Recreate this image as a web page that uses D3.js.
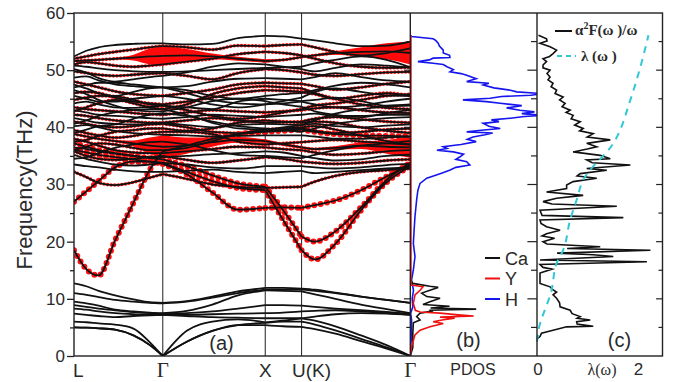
<!DOCTYPE html>
<html>
<head>
<meta charset="utf-8">
<script src="https://cdn.jsdelivr.net/npm/d3@7"></script>
<style>
  body { margin: 0; background: #fff; }
  svg text { font-family: "Liberation Sans", Arial, sans-serif; fill: #2a2a2a; }
  .serif { font-family: "Liberation Serif", "Times New Roman", serif !important; }
</style>
</head>
<body>
<div id="chart"></div>
<script>
// k-path grid (L-G-X-U(K)-G), high symmetry points and labels
var kPath = [0, 0.12, 0.24, 0.40, 0.58, 0.74, 0.866, 1.1, 1.35, 1.6, 1.866, 2.04, 2.22, 2.35, 2.55, 2.8, 3.05, 3.281];
var segments = [[0, 6], [6, 10], [10, 12], [12, 17]];
var kTicks = [0, 0.866, 1.866, 2.22, 3.281];
var kLabels = ["L", "Γ", "X", "U(K)", "Γ"];

// low (Ca/Y) branches, THz
var lowBands = [
  [12.7, 12.2, 11.4, 10.6, 9.9, 9.4, 9.3, 9.6, 10.4, 11.3, 11.9, 11.9, 11.8, 11.6, 11.1, 10.4, 9.8, 9.3],
  [11.0, 10.7, 10.3, 9.8, 9.5, 9.3, 9.2, 9.5, 10.2, 11.0, 11.6, 11.6, 11.6, 11.4, 11.0, 10.4, 9.8, 9.3],
  [9.5, 9.2, 8.8, 8.1, 7.8, 7.6, 7.5, 7.9, 9.0, 10.6, 11.5, 11.4, 11.3, 10.8, 10.0, 9.0, 8.2, 7.5],
  [8.9, 8.6, 8.3, 8.0, 7.7, 7.5, 7.4, 7.5, 7.8, 8.3, 8.9, 8.9, 8.8, 8.6, 8.3, 8.0, 7.7, 7.4],
  [8.3, 8.1, 7.8, 7.5, 7.3, 7.2, 7.2, 7.2, 7.3, 7.4, 7.5, 7.6, 7.8, 7.9, 8.0, 7.8, 7.5, 7.2],
  [7.4, 7.2, 7.0, 6.8, 7.0, 7.1, 7.2, 7.0, 6.8, 6.7, 6.6, 6.6, 6.6, 6.9, 7.3, 7.5, 7.4, 7.2],
  [6.0, 5.9, 5.7, 5.5, 4.8, 2.4, 0, 4.4, 6.0, 6.4, 5.9, 6.2, 6.6, 6.2, 5.2, 3.6, 1.9, 0],
  [5.0, 4.95, 4.85, 4.6, 3.6, 1.9, 0, 2.5, 4.4, 5.4, 5.8, 6.0, 6.0, 5.5, 4.5, 3.0, 1.5, 0],
  [5.0, 4.95, 4.85, 4.6, 3.6, 1.9, 0, 2.5, 4.4, 5.4, 5.4, 5.2, 5.1, 4.7, 3.9, 2.6, 1.3, 0]
];

// high (H) branches, THz
var highBands = [
  [52.4, 53.4, 54.0, 54.4, 54.6, 54.7, 54.7, 54.5, 54.6, 55.6, 56.0, 55.9, 55.5, 55.2, 54.7, 54.2, 54.3, 55.0],
  [52.0, 52.4, 52.8, 53.2, 53.6, 54.0, 54.2, 54.0, 53.6, 54.3, 54.2, 54.4, 54.5, 54.0, 53.2, 52.6, 53.0, 53.8],
  [51.6, 51.7, 51.8, 52.0, 52.2, 52.4, 52.5, 52.6, 52.4, 52.0, 51.6, 51.8, 52.3, 52.6, 53.0, 53.2, 53.3, 53.0],
  [50.8, 50.6, 50.3, 50.0, 49.8, 49.7, 49.7, 49.8, 50.0, 50.2, 50.4, 50.5, 50.6, 51.2, 51.8, 52.4, 51.8, 50.5],
  [49.8, 49.5, 49.2, 49.0, 49.2, 49.4, 49.5, 49.0, 48.4, 49.5, 50.2, 50.0, 49.6, 49.2, 49.0, 49.3, 49.6, 49.7],
  [48.7, 48.9, 48.2, 47.5, 47.2, 47.0, 47.0, 47.2, 48.0, 48.5, 48.6, 48.5, 48.4, 48.8, 49.5, 48.8, 48.2, 48.0],
  [48.0, 47.5, 47.0, 46.3, 45.8, 45.6, 45.5, 46.0, 46.6, 47.5, 47.8, 47.7, 47.6, 47.2, 46.6, 47.0, 47.6, 48.0],
  [47.0, 47.4, 47.8, 47.8, 47.5, 47.2, 47.0, 46.5, 45.5, 45.0, 45.5, 45.8, 46.0, 46.5, 47.3, 47.8, 47.5, 47.0],
  [46.0, 46.2, 46.0, 45.2, 44.5, 44.2, 44.0, 44.5, 45.2, 46.0, 46.5, 46.4, 46.2, 45.8, 45.0, 45.5, 46.0, 45.5],
  [45.5, 45.0, 44.5, 44.5, 45.0, 45.3, 45.5, 45.0, 44.0, 43.5, 44.0, 44.2, 44.5, 44.0, 43.5, 43.8, 44.5, 45.0],
  [44.2, 44.5, 44.0, 43.5, 43.4, 43.6, 43.8, 43.5, 43.2, 44.5, 45.0, 44.8, 44.6, 44.8, 45.2, 44.6, 43.8, 44.0],
  [43.5, 43.2, 43.0, 42.8, 42.5, 42.3, 42.2, 42.6, 43.0, 42.8, 42.6, 42.8, 43.0, 43.3, 43.5, 43.0, 42.6, 42.5],
  [43.0, 42.6, 42.2, 42.0, 41.8, 41.6, 41.5, 41.8, 42.2, 42.0, 41.8, 42.0, 42.2, 42.4, 42.0, 42.0, 42.2, 42.2],
  [42.2, 42.0, 41.6, 41.2, 41.0, 40.8, 40.8, 41.2, 41.6, 41.2, 40.8, 40.9, 41.0, 41.5, 41.8, 41.4, 41.0, 40.8],
  [41.6, 41.2, 40.8, 40.6, 40.5, 40.6, 40.8, 40.4, 40.0, 40.4, 40.6, 40.5, 40.4, 40.6, 40.2, 40.0, 40.3, 40.5],
  [41.0, 40.6, 40.2, 40.0, 40.2, 40.5, 40.6, 40.0, 39.2, 39.0, 39.4, 39.6, 39.8, 39.4, 39.0, 39.2, 39.6, 39.8],
  [40.2, 40.4, 40.0, 39.4, 39.0, 38.8, 38.7, 38.6, 38.4, 38.5, 38.6, 38.6, 38.6, 38.4, 38.0, 38.0, 38.2, 38.4],
  [39.5, 39.0, 38.6, 38.2, 38.5, 39.0, 39.2, 39.2, 38.8, 37.5, 37.0, 37.2, 37.4, 37.6, 37.8, 37.5, 37.2, 37.0],
  [38.8, 38.4, 38.0, 37.6, 37.2, 36.8, 36.6, 36.8, 37.4, 37.8, 37.6, 37.0, 36.5, 36.2, 36.4, 36.8, 36.6, 36.5],
  [38.0, 37.5, 36.8, 36.0, 35.6, 35.5, 35.5, 35.8, 36.2, 36.6, 36.5, 36.2, 36.0, 35.6, 35.2, 35.4, 35.8, 36.0],
  [36.5, 36.2, 35.8, 35.4, 35.0, 34.8, 34.8, 35.0, 35.3, 35.5, 35.8, 35.6, 35.0, 34.6, 34.2, 34.4, 35.0, 35.2],
  [35.8, 35.0, 34.5, 34.3, 34.5, 34.8, 35.0, 34.3, 33.8, 34.2, 34.8, 34.5, 34.0, 33.8, 33.6, 33.8, 34.2, 34.4],
  [35.2, 34.5, 34.0, 33.5, 33.3, 33.5, 33.8, 33.5, 33.0, 32.8, 33.2, 33.2, 33.2, 33.0, 32.8, 33.0, 33.4, 33.6],
  [33.5, 33.2, 33.0, 32.6, 32.3, 32.2, 32.2, 32.4, 32.6, 32.2, 32.0, 32.2, 32.4, 32.0, 32.2, 32.5, 32.8, 33.0],
  [32.2, 31.3, 30.3, 29.9, 30.4, 31.2, 31.8, 31.0, 30.0, 29.6, 29.4, 29.5, 29.6, 30.5, 31.5, 32.2, 32.5, 32.8],
  [27.0, 28.8, 30.6, 33.0, 34.0, 34.0, 33.6, 31.8, 28.6, 25.6, 25.9, 26.0, 25.9, 26.4, 27.2, 29.0, 31.4, 33.4],
  [37.2, 36.6, 36.0, 35.5, 35.0, 34.6, 34.4, 33.2, 31.6, 30.2, 29.6, 25.5, 20.9, 20.0, 21.8, 26.0, 30.8, 33.8],
  [36.0, 35.6, 35.2, 34.8, 34.4, 34.0, 33.8, 32.2, 30.6, 29.4, 29.0, 23.8, 18.5, 16.9, 19.6, 25.5, 30.4, 33.2],
  [18.5, 15.2, 14.1, 20.2, 26.8, 32.6, 35.8, 36.8, 38.0, 38.8, 39.2, 39.4, 39.6, 39.2, 38.8, 38.6, 38.5, 38.4],
  [46.5, 45.8, 44.8, 43.8, 43.0, 42.8, 42.8, 43.5, 44.6, 45.0, 44.6, 44.0, 43.6, 42.8, 42.2, 41.8, 42.5, 43.0],
  [44.8, 45.2, 45.5, 45.4, 44.8, 44.0, 43.8, 43.0, 42.0, 41.5, 42.0, 42.6, 43.2, 43.8, 44.2, 44.8, 45.5, 45.8],
  [39.0, 39.6, 40.2, 40.5, 41.5, 42.2, 42.5, 42.0, 41.0, 40.2, 39.8, 39.5, 39.2, 39.8, 40.6, 41.2, 41.6, 41.8],
  [37.5, 37.8, 38.5, 39.2, 39.5, 39.8, 39.8, 39.4, 39.8, 40.8, 41.2, 41.0, 40.8, 41.0, 40.8, 40.0, 39.4, 39.0],
  [34.5, 34.8, 35.5, 36.4, 37.0, 37.4, 37.5, 37.0, 36.0, 35.2, 35.0, 34.8, 34.6, 35.2, 36.0, 36.8, 37.2, 37.6],
  [51.0, 51.4, 51.2, 50.8, 50.6, 50.8, 51.0, 51.5, 52.0, 52.8, 53.2, 53.0, 52.6, 52.0, 51.2, 50.6, 50.4, 50.5],
  [47.5, 46.8, 46.0, 45.5, 46.2, 46.8, 47.0, 46.0, 44.8, 44.2, 44.0, 44.6, 45.2, 46.2, 46.8, 46.2, 45.6, 45.5],
  [42.8, 43.5, 44.2, 44.8, 44.2, 43.5, 43.2, 44.0, 45.8, 46.8, 47.2, 47.0, 46.8, 46.0, 45.0, 44.0, 43.4, 43.2],
  [40.6, 41.2, 42.0, 42.6, 43.0, 43.2, 43.2, 42.2, 40.8, 39.8, 39.6, 40.0, 40.4, 41.2, 42.4, 43.2, 43.6, 43.8],
  [50.2, 49.6, 48.6, 48.0, 48.4, 48.8, 49.0, 49.6, 50.6, 51.2, 51.0, 50.6, 50.2, 49.8, 50.4, 51.0, 50.8, 50.5],
  [36.0, 36.6, 37.2, 37.0, 36.4, 36.0, 36.0, 36.4, 37.6, 38.8, 39.6, 39.8, 40.0, 40.2, 39.6, 38.6, 37.6, 37.0]
];

// branches carrying e-ph coupling markers
var redBandIdx = [1, 2, 4, 6, 8, 11, 13, 15, 17, 18, 19, 21, 24, 30, 32, 34, 36, 39];
var bigBeadIdx = [25, 26, 27, 28];
// fat-band linewidth (THz) for the strongest coupled branches
var fatBandIdx = [2, 18];
var fatWeight = [
  [0, 0, 0, 0.1, 0.5, 1.4, 1.7, 1.1, 0.5, 0.35, 0.3, 0.15, 0.1, 0.15, 0.3, 0.8, 1.4, 2.0],
  [0, 0, 0, 0.1, 0.5, 1.4, 2.0, 1.4, 0.8, 0.5, 0.3, 0.2, 0.2, 0.2, 0.3, 0.6, 1.2, 1.8]
];

// PDOS (b): [frequency THz, states a.u.]
var pdosCa = [[0,0],[1.5,0.2],[4.0,0.2],[5.8,0.24],[6.3,0.77],[6.9,0.5],[7.5,0.77],[7.9,1.8],[8.0,1.5],[8.2,5.2],[8.4,1.6],[8.7,3.1],[9.0,1.0],[9.5,1.55],[10.1,2.35],[10.4,1.3],[11.0,0.9],[11.5,1.55],[12.0,2.2],[12.2,1.55],[12.7,0.2],[13.2,0]];
var pdosY = [[0,0],[1.6,0.1],[3.7,0.37],[4.5,0.77],[5.1,1.55],[5.7,2.6],[6.0,1.8],[6.3,2.5],[6.6,3.5],[6.8,2.35],[7.0,5.0],[7.2,3.8],[7.5,2.35],[7.7,0.77],[8.0,0.4],[9.2,0.24],[10.7,0.37],[11.5,0.77],[12.1,1.0],[12.4,0.1],[13,0.05],[56,0.05]];
var pdosH = [[0,0],[2,0.05],[4,0.1],[6.3,0.1],[7.5,0.03],[8.6,0.2],[10,0.15],[11.5,0.25],[13.3,0.1],[15,0.24],[17.4,0.37],[19.7,0.24],[22,0.3],[24.4,0.37],[27.3,0.5],[29,0.6],[30.2,0.77],[31.1,1.3],[31.9,2.35],[32.5,3.1],[33.0,3.6],[33.4,4.7],[34.0,4.45],[34.4,3.6],[34.8,3.9],[35.3,4.2],[35.7,3.4],[36.0,2.1],[36.3,2.9],[36.6,2.6],[37.0,4.0],[37.5,5.2],[37.9,4.5],[38.3,4.95],[38.7,5.9],[39.0,6.5],[39.2,4.45],[39.5,5.6],[39.8,7.1],[40.2,6.2],[40.7,5.75],[41.0,7.0],[41.3,6.4],[41.6,7.9],[41.9,9.0],[42.1,10.5],[42.4,8.8],[42.7,9.8],[43.0,8.65],[43.4,7.6],[43.8,8.8],[44.2,7.1],[44.5,6.0],[44.8,4.15],[45.1,6.3],[45.4,7.2],[45.6,9.5],[45.9,10.5],[46.2,8.4],[46.5,7.9],[46.9,6.6],[47.4,5.75],[47.7,6.2],[48.0,4.45],[48.5,5.2],[49.1,4.45],[49.4,4.0],[49.7,3.13],[50.1,3.4],[50.6,2.9],[51.0,2.6],[51.2,1.8],[51.5,0.6],[51.8,1.5],[52.1,1.8],[52.2,3.13],[52.6,3.1],[53.0,2.6],[53.5,2.6],[54.2,2.3],[54.7,2.2],[55.2,2.0],[55.5,1.8],[55.9,0.1],[56.1,0]];

// Eliashberg (c): [frequency THz, alpha^2F/omega] and [frequency THz, lambda]
var a2F = [[3.0,0],[3.4,0.06],[4.0,0.09],[4.5,0.32],[5.1,0.59],[5.2,1.12],[5.6,0.8],[6.0,0.79],[6.3,1.06],[6.6,0.8],[6.9,0.86],[7.4,0.7],[8.0,0.66],[8.6,0.46],[9.3,0.45],[10.1,0.39],[10.7,0.32],[11.2,0.39],[11.7,0.3],[12.1,0.26],[12.7,0.06],[14.5,0.06],[15.2,0.3],[15.5,0.12],[16.0,0.06],[16.5,2.19],[16.8,0.06],[17.4,1.52],[17.7,1.12],[18.0,0.4],[18.5,2.26],[18.8,0.6],[19.1,1.26],[19.6,0.2],[20.0,0.12],[20.6,0.35],[21.0,0.1],[21.4,0.19],[22.0,0.46],[22.6,0.19],[23.2,0.08],[23.8,0.06],[24.2,1.72],[24.6,0.1],[25.5,0.06],[26.2,1.59],[26.6,0.3],[27.0,0.12],[27.6,0.39],[28.1,0.92],[28.7,0.19],[29.3,0.59],[29.9,0.59],[30.5,0.72],[31.1,1.19],[31.5,0.8],[31.9,0.86],[32.5,1.39],[32.8,0.99],[33.4,1.86],[33.8,1.1],[34.3,0.99],[34.5,1.46],[35.1,1.26],[35.7,0.72],[36.2,1.0],[36.6,1.19],[37.2,0.99],[37.8,1.46],[38.3,1.0],[38.9,1.12],[39.4,0.85],[39.8,0.92],[40.4,0.75],[41.0,0.86],[41.5,0.68],[42.1,0.72],[42.6,0.58],[43.0,0.66],[43.6,0.5],[44.2,0.56],[44.8,0.45],[45.3,0.52],[45.9,0.36],[46.5,0.39],[47.1,0.28],[47.7,0.32],[48.3,0.22],[48.8,0.26],[49.4,0.2],[50.0,0.26],[50.4,0.12],[50.9,0.12],[51.5,0.19],[52.0,0.12],[52.4,0.25],[52.9,0.32],[53.5,0.39],[54.1,0.26],[54.7,0.06],[55.1,0.2],[55.5,0.19],[56.1,0.03]];
var lambdaW = [[2.5,0],[4.5,0.03],[11.5,0.29],[16.2,0.39],[18.5,0.52],[23.8,0.66],[27.3,0.79],[30.8,0.92],[37.2,1.52],[44.8,1.86],[50.6,2.06],[56.1,2.22]];

var pdosNames = ["Ca", "Y", "H"];
var pdosColors = ["#111111", "#ee1111", "#1515ee"];

//svg
var svgWidth = 681, svgHeight = 382;
var svg = d3.select("#chart").append("svg")
    .attr("width", svgWidth)
    .attr("height", svgHeight);

//panel edges
var plotTop = 13, plotBottom = 356;
var xa0 = 74, xa1 = 410.3, xb1 = 537, xc1 = 662.5;

var yF = d3.scaleLinear().domain([0, 60]).range([plotBottom, plotTop]);
var xK = d3.scaleLinear().domain([0, 3.281]).range([xa0, xa1]);
var xP = d3.scaleLinear().domain([0, 10]).range([xa1, xb1]);
var xL = d3.scaleLinear().domain([0, 2.5]).range([xb1, xc1]);

var defs = svg.append("defs");
defs.append("clipPath").attr("id", "clipA").append("rect")
    .attr("x", xa0).attr("y", plotTop).attr("width", xa1 - xa0).attr("height", plotBottom - plotTop);
defs.append("clipPath").attr("id", "clipB").append("rect")
    .attr("x", xa1).attr("y", plotTop).attr("width", xb1 - xa1).attr("height", plotBottom - plotTop);

// ---------- panel (a) ----------
var gA = svg.append("g").attr("clip-path", "url(#clipA)");

// high symmetry lines
gA.selectAll(".sym").data(kTicks.slice(1, 4)).enter().append("line")
    .attr("x1", d => xK(d)).attr("x2", d => xK(d))
    .attr("y1", plotTop).attr("y2", plotBottom)
    .attr("stroke", "#333").attr("stroke-width", 1.1);

var bandLine = d3.line()
    .x(d => xK(d[0])).y(d => yF(d[1]))
    .curve(d3.curveMonotoneX);
var fatArea = d3.area()
    .x(d => xK(d[0])).y0(d => yF(d[1] - d[2])).y1(d => yF(d[1] + d[2]))
    .curve(d3.curveMonotoneX);

function bandSegs(band, w) {
    return segments.map(s => d3.range(s[0], s[1] + 1).map(i => [kPath[i], band[i], w ? w[i] : 0]));
}

// fat bands
fatBandIdx.forEach(function(bi, j) {
    gA.selectAll(null).data(bandSegs(highBands[bi], fatWeight[j])).enter().append("path")
        .attr("d", fatArea)
        .attr("fill", "#ff0a0a");
});

// small red markers
redBandIdx.forEach(function(bi) {
    gA.selectAll(null).data(bandSegs(highBands[bi])).enter().append("path")
        .attr("d", bandLine)
        .attr("fill", "none")
        .attr("stroke", "#ff1010")
        .attr("stroke-width", 3.6)
        .attr("stroke-linecap", "round")
        .attr("stroke-dasharray", "0 3.6");
});
// big red markers
bigBeadIdx.forEach(function(bi) {
    gA.selectAll(null).data(bandSegs(highBands[bi])).enter().append("path")
        .attr("d", bandLine)
        .attr("fill", "none")
        .attr("stroke", "#ff1010")
        .attr("stroke-width", 6)
        .attr("stroke-linecap", "round")
        .attr("stroke-dasharray", "0 6.5");
});

// all branches in black
lowBands.concat(highBands).forEach(function(band) {
    gA.selectAll(null).data(bandSegs(band)).enter().append("path")
        .attr("d", bandLine)
        .attr("fill", "none")
        .attr("stroke", "#111")
        .attr("stroke-width", 1.8);
});

// ---------- panel (b) ----------
var gB = svg.append("g").attr("clip-path", "url(#clipB)");
var pdosLine = d3.line().x(d => xP(d[1])).y(d => yF(d[0]));
[pdosH, pdosCa, pdosY].forEach(function(data, i) {
    var c = [pdosColors[2], pdosColors[0], pdosColors[1]][i];
    gB.append("path")
        .attr("d", pdosLine(data))
        .attr("fill", "none")
        .attr("stroke", c)
        .attr("stroke-width", 1.6);
});

// ---------- panel (c) ----------
var gC = svg.append("g");
gC.append("path")
    .attr("d", d3.line().x(d => xL(d[1])).y(d => yF(d[0]))(a2F))
    .attr("fill", "none").attr("stroke", "#111").attr("stroke-width", 1.6);
gC.append("path")
    .attr("d", d3.line().x(d => xL(d[1])).y(d => yF(d[0])).curve(d3.curveMonotoneY)(lambdaW))
    .attr("fill", "none").attr("stroke", "#30c8d8").attr("stroke-width", 2)
    .attr("stroke-dasharray", "7 6");

// ---------- frames and axes ----------
var frame = svg.append("g").attr("fill", "none").attr("stroke", "#222").attr("stroke-width", 1.4);
frame.append("rect").attr("x", xa0).attr("y", plotTop).attr("width", xc1 - xa0).attr("height", plotBottom - plotTop);
[xa1, xb1].forEach(function(x) {
    frame.append("line").attr("x1", x).attr("x2", x).attr("y1", plotTop).attr("y2", plotBottom);
});

var majors = d3.range(0, 61, 10), minors = d3.range(5, 60, 10);
var yAxis = svg.append("g").attr("transform", `translate(${xa0},0)`)
    .call(d3.axisLeft(yF).tickValues(majors).tickSize(7).tickPadding(2));
yAxis.select(".domain").remove();
yAxis.selectAll("text").style("font-size", "17px").attr("fill", "#2a2a2a");
yAxis.selectAll("line").attr("stroke", "#222").attr("stroke-width", 1.3);
var yMinor = svg.append("g").attr("transform", `translate(${xa0},0)`)
    .call(d3.axisLeft(yF).tickValues(minors).tickSize(4).tickFormat(""));
yMinor.select(".domain").remove();
yMinor.selectAll("line").attr("stroke", "#222").attr("stroke-width", 1.3);

// small inner ticks on the panel dividers and right edge
var fiveTicks = d3.range(5, 60, 5);
[[xa1, -4], [xb1, -6], [xc1, -4]].forEach(function(p) {
    svg.append("g").selectAll("line").data(fiveTicks).enter().append("line")
        .attr("x1", p[0]).attr("x2", d => p[0] + (d % 10 === 0 ? p[1] * 1.6 : p[1]))
        .attr("y1", d => yF(d)).attr("y2", d => yF(d))
        .attr("stroke", "#222").attr("stroke-width", 1.2);
});

svg.append("text")
    .attr("transform", "translate(32,190) rotate(-90)")
    .attr("text-anchor", "middle")
    .style("font-size", "22px")
    .text("Frequency(THz)");

// k labels
svg.selectAll(".klab").data(kTicks).enter().append("text")
    .attr("class", (d, i) => kLabels[i] === "Γ" ? "serif" : null)
    .attr("x", (d, i) => i === 0 ? xK(d) - 1 : (i === 3 ? xK(d) + 10 : xK(d)))
    .attr("y", 377)
    .attr("text-anchor", (d, i) => i === 0 ? "start" : "middle")
    .style("font-size", (d, i) => kLabels[i] === "Γ" ? "21px" : "19px")
    .text((d, i) => kLabels[i]);

// panel tags
[["(a)", 221.5, 350], ["(b)", 468.5, 347], ["(c)", 619.5, 347]].forEach(function(t) {
    svg.append("text").attr("x", t[1]).attr("y", t[2]).attr("text-anchor", "middle")
        .style("font-size", "20px").text(t[0]);
});

svg.append("text").attr("x", 473).attr("y", 375).attr("text-anchor", "middle")
    .style("font-size", "16px").text("PDOS");

// lambda axis labels
svg.selectAll(".lt").data([0, 2]).enter().append("text")
    .attr("x", d => xL(d) + 1).attr("y", 375).attr("text-anchor", "middle")
    .style("font-size", "17px").text(d => d);
svg.append("text").attr("class", "serif").attr("x", 602).attr("y", 375).attr("text-anchor", "middle")
    .style("font-size", "16px").text("λ(ω)");

// legend (b)
var legB = svg.append("g");
pdosNames.forEach(function(n, i) {
    var y = 258 + i * 20.5;
    legB.append("line").attr("x1", 485).attr("x2", 500).attr("y1", y).attr("y2", y)
        .attr("stroke", pdosColors[i]).attr("stroke-width", 2);
    legB.append("text").attr("x", 505).attr("y", y + 6.5).style("font-size", "18px").text(n);
});

// legend (c)
var legC = svg.append("g");
legC.append("line").attr("x1", 555).attr("x2", 572).attr("y1", 31).attr("y2", 31)
    .attr("stroke", "#111").attr("stroke-width", 2);
var t1 = legC.append("text").attr("class", "serif").attr("x", 575).attr("y", 35)
    .style("font-size", "15px").style("font-weight", "bold");
t1.append("tspan").text("α");
t1.append("tspan").attr("dy", -6).style("font-size", "10px").text("2");
t1.append("tspan").attr("dy", 6).text("F(ω )/ω");
legC.append("line").attr("x1", 557).attr("x2", 576).attr("y1", 56).attr("y2", 56)
    .attr("stroke", "#30c8d8").attr("stroke-width", 2).attr("stroke-dasharray", "5 4");
legC.append("text").attr("class", "serif").attr("x", 581).attr("y", 61)
    .style("font-size", "15px").style("font-weight", "bold").text("λ (ω )");
</script>
</body>
</html>
